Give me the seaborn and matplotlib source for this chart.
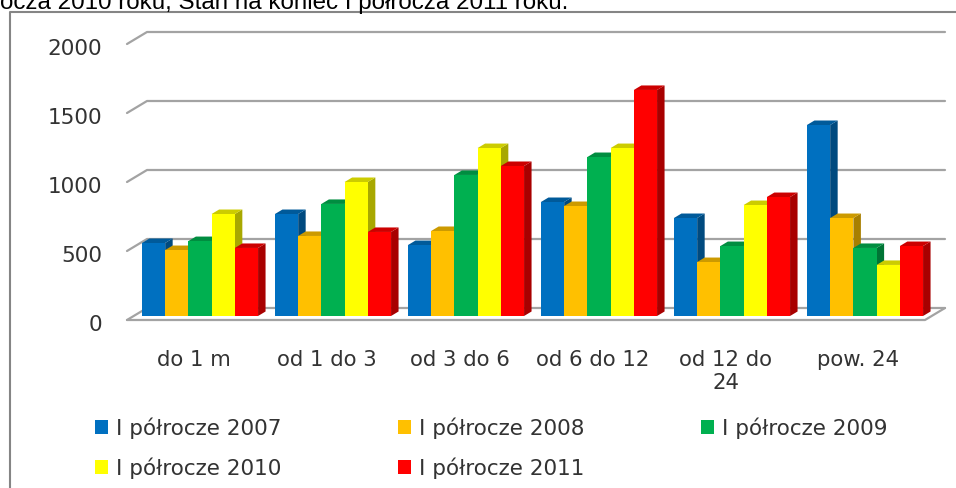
import pandas as pd
import matplotlib
matplotlib.use('Agg')
import matplotlib.pyplot as plt
import matplotlib.transforms as mtrans
from matplotlib.colors import to_rgb
from matplotlib.lines import Line2D
from matplotlib.patches import Polygon
import seaborn as sns

# Dane
okresy = ['do 1 m', 'od 1 do 3', 'od 3 do 6', 'od 6 do 12', 'od 12 do\n24', 'pow. 24']
polrocze_2007 = [529, 739, 514, 826, 710, 1384]
polrocze_2008 = [478, 580, 616, 797, 391, 710]
polrocze_2009 = [543, 812, 1022, 1152, 507, 493]
polrocze_2010 = [739, 971, 1217, 1217, 804, 370]
polrocze_2011 = [493, 609, 1087, 1638, 862, 507]
serie = ['I półrocze 2007', 'I półrocze 2008', 'I półrocze 2009', 'I półrocze 2010', 'I półrocze 2011']
kolory = ['#0070C0', '#FFC000', '#00B050', '#FFFF00', '#FF0000']
wartosci_osi = [0, 500, 1000, 1500, 2000]
tytul = 'ocza 2010 roku, Stan na koniec I półrocza 2011 roku.'

df = pd.DataFrame({
    'okres': okresy * 5,
    'rok': [s for s in serie for _ in okresy],
    'liczba': polrocze_2007 + polrocze_2008 + polrocze_2009 + polrocze_2010 + polrocze_2011,
})

sns.set_style('white')
plt.rcParams['font.family'] = ['DejaVu Sans']

W, H = 956, 489
fig = plt.figure(figsize=(W / 100, H / 100), dpi=100)
ax = fig.add_axes([127 / W, (H - 317) / H, 798 / W, 276 / H])

sx = 133.0  # pikseli na kategorie
sy = 0.138  # pikseli na jednostke

sns.barplot(data=df, x='okres', y='liczba', hue='rok', palette=kolory, width=0.873,
            gap=0, saturation=1, linewidth=0, ax=ax)
ax.set_xlim(-73 / sx, -73 / sx + 6)
ax.set_ylim(0, 2000)
sns.despine(ax=ax, left=True, bottom=True)
ax.set_xlabel('')
ax.set_ylabel('')

# Siatka w stylu 3D
kolor_siatki = '#a3a3a3'
xl, xr = ax.get_xlim()
gx = 20 / sx
for v in wartosci_osi:
    ax.plot([xl, xl + gx, xr + gx], [v - 4 / sy, v + 8 / sy, v + 8 / sy], color=kolor_siatki,
            lw=1.6, clip_on=False, zorder=1)
ax.plot([xl, xr, xr + gx], [-4 / sy, -4 / sy, 8 / sy], color=kolor_siatki, lw=1.6, clip_on=False, zorder=1)

# Boki i wierzch slupkow
dx = 7.5 / sx
dy = 4.5 / sy
cien_boku = 0.66
cien_gory = 0.8
slupki = sorted(ax.patches, key=lambda p: p.get_x())
for s in slupki:
    x0, w, h = s.get_x(), s.get_width(), s.get_height()
    c = to_rgb(s.get_facecolor())
    s.set_zorder(5)
    s.set_clip_on(False)
    bok = [(x0 + w, 0), (x0 + w + dx, dy), (x0 + w + dx, h + dy), (x0 + w, h)]
    gora = [(x0, h), (x0 + dx, h + dy), (x0 + w + dx, h + dy), (x0 + w, h)]
    ax.add_patch(Polygon(bok, closed=True, fc=[k * cien_boku for k in c], ec='none', clip_on=False, zorder=3))
    ax.add_patch(Polygon(gora, closed=True, fc=[k * cien_gory for k in c], ec='none', clip_on=False, zorder=4))

# Opisy osi
ax.set_yticks(wartosci_osi)
ax.tick_params(axis='both', length=0)
ax.tick_params(axis='y', pad=18, labelsize=15.5, labelcolor='#333333')
ax.tick_params(axis='x', pad=24, labelsize=15.3, labelcolor='#333333')
for lab in ax.get_yticklabels():
    lab.set_transform(lab.get_transform() + mtrans.ScaledTranslation(0, -6 / 100, fig.dpi_scale_trans))
for lab in ax.get_xticklabels():
    lab.set_transform(lab.get_transform() + mtrans.ScaledTranslation(-6.5 / 100, 0, fig.dpi_scale_trans))
    lab.set_linespacing(1.15)

# Legenda: wiersz po wierszu, jak w oryginale
uchwyty, etykiety = ax.get_legend_handles_labels()
kolejnosc = [0, 3, 1, 4, 2]
ax.legend([uchwyty[i] for i in kolejnosc], [etykiety[i] for i in kolejnosc], ncol=3, frameon=False,
          loc='upper left', bbox_to_anchor=(95 / W, (H - 418) / H), bbox_transform=fig.transFigure,
          fontsize=15.5, labelcolor='#333333', handlelength=0.62, handleheight=0.62, handletextpad=0.37,
          columnspacing=5.4, labelspacing=0.85, borderaxespad=0, borderpad=0)

# Ramka i urwany tekst nad wykresem
kolor_ramki = '#858585'
fig.add_artist(Line2D([9.5 / W, 9.5 / W, 1], [0, (H - 13) / H, (H - 13) / H], color=kolor_ramki, lw=1.5))
fig.text(0 / W, (H - 9) / H, tytul, family='Liberation Sans', fontsize=17.4, color='black', ha='left', va='baseline')

fig.savefig('out.png', dpi=100)
